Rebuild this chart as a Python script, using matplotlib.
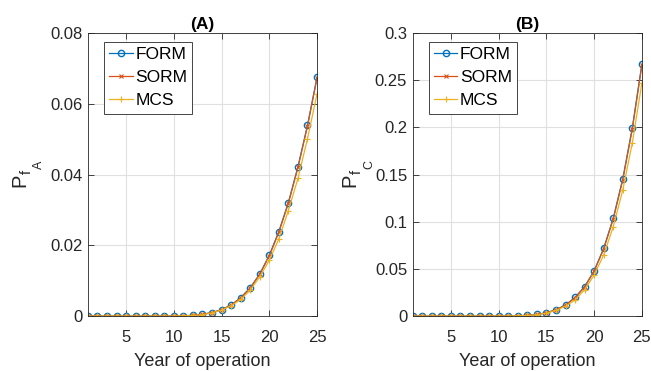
import numpy as np
import matplotlib
matplotlib.use('Agg')
import matplotlib.pyplot as plt

plt.rcParams['font.family'] = ['Liberation Sans', 'DejaVu Sans']

years = np.arange(1, 26)

# panel A
form_a = [0, 0, 0, 0, 0, 0, 0, 0, 0, 0.00002, 0.0001, 0.0002, 0.0005, 0.0010, 0.0018,
          0.0031, 0.0052, 0.0080, 0.0119, 0.0172, 0.0239, 0.0321, 0.0422, 0.0539, 0.0675]
sorm_a = [0, 0, 0, 0, 0, 0, 0, 0, 0, 0.00002, 0.0001, 0.0002, 0.0005, 0.0010, 0.0018,
          0.0031, 0.0051, 0.0079, 0.0118, 0.0170, 0.0237, 0.0319, 0.0420, 0.0537, 0.0673]
mcs_a = [0, 0, 0, 0, 0, 0, 0, 0, 0, 0.00002, 0.0001, 0.0002, 0.0004, 0.0009, 0.0017,
         0.0029, 0.0047, 0.0073, 0.0111, 0.0158, 0.0218, 0.0298, 0.0389, 0.0501, 0.0628]

# panel B
form_b = [0, 0, 0, 0, 0, 0, 0, 0, 0, 0.00003, 0.0001, 0.0003, 0.0008, 0.0017, 0.0035,
          0.0067, 0.0117, 0.0198, 0.0311, 0.0480, 0.0718, 0.1036, 0.1455, 0.1996, 0.2670]
sorm_b = [0, 0, 0, 0, 0, 0, 0, 0, 0, 0.00003, 0.0001, 0.0003, 0.0008, 0.0017, 0.0035,
          0.0066, 0.0116, 0.0196, 0.0308, 0.0476, 0.0712, 0.1028, 0.1445, 0.1985, 0.2660]
mcs_b = [0, 0, 0, 0, 0, 0, 0, 0, 0, 0.00003, 0.0001, 0.0003, 0.0007, 0.0015, 0.0031,
         0.0060, 0.0105, 0.0170, 0.0280, 0.0435, 0.0647, 0.0947, 0.1336, 0.1837, 0.2470]

c_form = '#0072BD'
c_sorm = '#D95319'
c_mcs = '#EDB120'
dark = '#262626'

W, H = 651, 371
fig = plt.figure(figsize=(W / 100, H / 100), dpi=100)
ax1 = fig.add_axes([0.135, 0.148, 0.352, 0.763])
ax2 = fig.add_axes([0.634, 0.148, 0.352, 0.763])

panels = [
    (ax1, form_a, sorm_a, mcs_a, 0.08, np.arange(0, 0.081, 0.02), '(A)', 'A', 0),
    (ax2, form_b, sorm_b, mcs_b, 0.3, np.arange(0, 0.31, 0.05), '(B)', 'C', 330),
]


def ylabel_piece(txt, px, py, size):
    # MATLAB-style P_{f_X} label, built piece by piece (rotated text)
    fig.text(px / W, 1 - py / H, txt, fontsize=size, color=dark, rotation=90,
             rotation_mode='anchor', ha='left', va='baseline')


for ax, f, s, m, ymax, yt, title, sub, dx in panels:
    ax.plot(years, f, color=c_form, marker='o', markersize=4.5, markerfacecolor='none',
            markeredgewidth=1.0, linewidth=0.9, label='FORM')
    ax.plot(years, s, color=c_sorm, marker='x', markersize=3, markeredgewidth=0.8,
            linewidth=0.9, label='SORM')
    ax.plot(years, m, color=c_mcs, marker='+', markersize=4, markeredgewidth=0.8,
            linewidth=0.9, label='MCS')
    ax.set_xlim(1, 25)
    ax.set_ylim(0, ymax)
    ax.set_xticks([5, 10, 15, 20, 25])
    ax.set_yticks(yt)
    ax.set_yticklabels(['0'] + ['%g' % v for v in yt[1:]])
    ax.grid(True, color='#e0e0e0', linewidth=0.8)
    ax.set_axisbelow(True)
    ax.tick_params(direction='in', labelsize=12, length=4, width=0.6,
                   top=True, right=True, colors=dark)
    ax.tick_params(axis='x', pad=10)
    ax.tick_params(axis='y', pad=4)
    for sp in ax.spines.values():
        sp.set_color(dark)
        sp.set_linewidth(0.6)
    ax.set_title(title, fontweight='bold', fontsize=12.5, pad=3)
    ax.set_xlabel('Year of operation', fontsize=13, color=dark, labelpad=5.5)
    leg = ax.legend(loc='upper left', bbox_to_anchor=(0.07, 0.968), fontsize=12.5,
                    fancybox=False, framealpha=1, edgecolor=dark,
                    handlelength=1.35, handletextpad=0.15, borderpad=0.3,
                    labelspacing=0.45, borderaxespad=0)
    leg.get_frame().set_linewidth(0.6)

    ylabel_piece('P', 25 + dx, 187, 14.5)
    ylabel_piece('f', 31 + dx, 174.5, 10.5)
    ylabel_piece(sub, 42 + dx, 169, 9)

fig.savefig('out.png', dpi=100)
